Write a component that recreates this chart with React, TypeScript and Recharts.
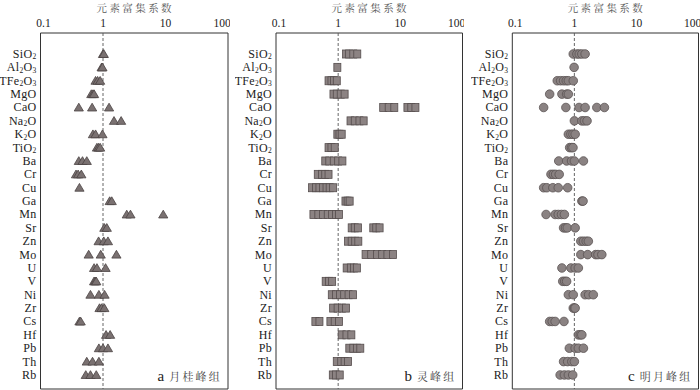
import React from 'react';
import { ScatterChart, Scatter, XAxis, YAxis, ReferenceLine, ReferenceArea } from 'recharts';

const categories = ['SiO2', 'Al2O3', 'TFe2O3', 'MgO', 'CaO', 'Na2O', 'K2O', 'TiO2', 'Ba', 'Cr', 'Cu', 'Ga', 'Mn', 'Sr', 'Zn', 'Mo', 'U', 'V', 'Ni', 'Zr', 'Cs', 'Hf', 'Pb', 'Th', 'Rb'];
const xTicks = [0.1, 1, 10, 100];
const minorTicks = [0.2, 0.3, 0.4, 0.5, 0.6, 0.7, 0.8, 0.9, 1, 2, 3, 4, 5, 6, 7, 8, 9, 10, 20, 30, 40, 50, 60, 70, 80, 90];
const axisTitle = '元素富集系数';

// a 月桂峰组 (triangles)
const yueguifeng: number[][] = [
  [1.0, 1.03], [0.95, 0.98], [0.76, 0.82, 0.9], [0.65, 0.69, 0.72], [0.41, 0.67, 1.25],
  [1.5, 1.95], [0.69, 0.76, 0.98], [0.8, 0.85, 0.9], [0.41, 0.47, 0.55], [0.37, 0.4, 0.45],
  [0.42], [1.28, 1.38], [2.4, 2.75, 9.2], [1.05, 1.15], [0.85, 1.03, 1.2],
  [0.59, 0.92, 1.64], [0.72, 0.8, 1.1], [0.72, 0.75, 0.78], [0.63, 0.86, 1.06], [0.88, 0.95, 1.05],
  [0.42, 0.44], [1.12, 1.3], [0.86, 1.0, 1.2], [0.55, 0.68, 0.86], [0.53, 0.63, 0.78],
];

// b 灵峰组 (rectangles)
const lingfeng: number[][] = [
  [1.34, 1.5, 1.75, 2.03], [0.97], [0.7, 0.78, 0.86, 0.95], [0.84, 0.95, 1.1, 1.27], [5.3, 6.5, 8.0, 13, 15, 17.5],
  [1.58, 1.85, 2.2, 2.57], [0.97, 1.05, 1.14], [0.7, 0.78, 0.88], [0.62, 0.72, 0.85, 1.0, 1.17], [0.47, 0.55, 0.62, 0.7],
  [0.38, 0.44, 0.5, 0.57, 0.65, 0.73, 0.83], [1.31, 1.42, 1.53], [0.4, 0.48, 0.57, 0.68, 0.8, 0.92, 1.03], [1.65, 1.85, 2.08, 3.67, 4.1, 4.64], [1.44, 1.65, 1.88, 2.11],
  [2.76, 3.4, 4.2, 5.1, 6.2, 7.6], [1.37, 1.6, 1.8, 2.0], [0.63, 0.71, 0.8], [0.79, 0.92, 1.07, 1.25, 1.47, 1.73], [0.83, 0.98, 1.15, 1.34],
  [0.43, 0.5, 0.75, 0.88, 1.03], [1.14, 1.36, 1.63], [1.51, 1.75, 2.0, 2.27], [0.95, 1.12, 1.27, 1.44], [0.82, 0.92, 1.06],
];

// c 明月峰组 (circles)
const mingyuefeng: number[][] = [
  [0.96, 1.1, 1.2, 1.32, 1.49], [0.99], [0.53, 0.6, 0.67, 0.74, 0.8, 0.96], [0.4, 0.63, 0.75, 0.8], [0.32, 0.73, 1.19, 1.49, 2.3, 3.05],
  [1.0, 1.32, 1.45, 1.6], [0.8, 0.88, 0.95, 1.03], [0.84, 0.9, 0.95], [0.56, 0.75, 0.9, 1.0, 1.4], [0.42, 0.46, 0.5, 0.57],
  [0.32, 0.36, 0.45, 0.55, 0.78], [1.32, 1.38], [0.35, 0.49, 0.55, 0.62, 0.69], [0.67, 0.72, 0.77, 1.03], [1.27, 1.4, 1.55, 1.68],
  [1.27, 1.64, 2.2, 2.4, 2.77], [0.63, 0.88, 1.03, 1.16], [0.65, 0.7, 0.75], [0.8, 0.96, 1.49, 1.7, 2.02], [0.96, 1.0, 1.03],
  [0.4, 0.44, 0.49, 0.68], [1.16, 1.25, 1.32], [0.83, 1.03, 1.16, 1.4], [0.67, 0.78, 0.91, 1.0], [0.59, 0.69, 0.8, 0.94],
];

const panelLetters = ['a', 'b', 'c'];
const panelNames = ['月桂峰组', '灵峰组', '明月峰组'];

const SERIF = "'Liberation Serif', 'Times New Roman', serif";
const CJK = "'Noto Serif CJK SC', 'Noto Sans CJK SC', sans-serif";
const Y_DOMAIN: [number, number] = [-1.57, 25.05];
const yTickVals = categories.map((_, i) => i);

const YTick = (props: any) => {
  const { x, y, payload } = props;
  const label = categories[payload.value] || '';
  const parts = label.match(/\d+|\D+/g) || [];
  let sub = false;
  return (
    <text x={x} y={y} textAnchor="end" dominantBaseline="central" fontSize={12} fontFamily={SERIF} fill="#222" letterSpacing={0.3}>
      {parts.map((p, i) => {
        const isNum = /\d/.test(p);
        let dy = 0;
        if (isNum && !sub) dy = 2.5;
        if (!isNum && sub) dy = -2.5;
        sub = isNum;
        return (
          <tspan key={i} dy={dy} fontSize={isNum ? 7.5 : 12}>{p}</tspan>
        );
      })}
    </text>
  );
};

const XTick = (props: any) => {
  const { x, y, payload } = props;
  const v = payload.value;
  const dx = v === 0.1 ? 3 : v === 100 ? -6 : 0;
  return (
    <text x={x + dx} y={y} textAnchor="middle" fontSize={11.5} fontFamily={SERIF} fill="#222">{String(v)}</text>
  );
};

const Triangle = (props: any) => {
  const { cx, cy } = props;
  if (cx == null || cy == null) return null;
  return <path d={`M${cx},${cy - 4.3} L${cx + 4.6},${cy + 3.5} L${cx - 4.6},${cy + 3.5} Z`} fill="#7a7171" stroke="#4a4343" strokeWidth={0.8} />;
};
const Rect = (props: any) => {
  const { cx, cy } = props;
  if (cx == null || cy == null) return null;
  return <rect x={cx - 3.5} y={cy - 4} width={7} height={8} fill="#8c8383" stroke="#554d4d" strokeWidth={0.8} />;
};
const Dot = (props: any) => {
  const { cx, cy } = props;
  if (cx == null || cy == null) return null;
  return <circle cx={cx} cy={cy} r={4.3} fill="#8a8282" stroke="#5a5353" strokeWidth={0.8} />;
};

const toPoints = (groups: number[][]) => groups.flatMap((vals, i) => vals.map((v) => ({ x: v, y: i })));

const panels = [
  { left: 0, plotLeft: 40.5, plotRight: 228, data: yueguifeng, shape: Triangle },
  { left: 235, plotLeft: 276, plotRight: 462.5, data: lingfeng, shape: Rect },
  { left: 471, plotLeft: 512.3, plotRight: 698.5, data: mingyuefeng, shape: Dot },
];

function Panel({ p }: { p: typeof panels[number] }) {
  const yw = p.plotLeft - p.left;
  const w = Math.min(700 - p.left, p.plotRight - p.left + 1.5);
  const mr = w - (p.plotRight - p.left);
  return (
    <div style={{ position: 'absolute', left: p.left, top: 0 }}>
      <ScatterChart width={w} height={390} margin={{ top: 13, right: mr, bottom: 1, left: 0 }}>
        <XAxis xAxisId={0} type="number" dataKey="x" scale="log" domain={[0.1, 100]} allowDataOverflow
          ticks={xTicks} interval={0} orientation="top" height={20} axisLine={false} tickLine={false}
          tickSize={0} tickMargin={6} tick={<XTick />} />
        <XAxis xAxisId="minor" type="number" dataKey="x" scale="log" domain={[0.1, 100]} allowDataOverflow
          ticks={minorTicks} interval={0} orientation="top" mirror height={0} axisLine={false}
          tick={false} tickSize={4} tickLine={{ stroke: '#333', strokeWidth: 1 }} />
        <YAxis yAxisId={0} type="number" dataKey="y" domain={Y_DOMAIN} reversed allowDataOverflow
          ticks={yTickVals} interval={0} width={yw} axisLine={false} tickLine={false}
          tickSize={0} tickMargin={4} tick={<YTick />} />
        <YAxis yAxisId="m" type="number" dataKey="y" domain={Y_DOMAIN} reversed allowDataOverflow
          ticks={yTickVals} interval={0} mirror width={0} axisLine={false} tick={false} tickSize={4}
          tickLine={{ stroke: '#333', strokeWidth: 1 }} />
        <ReferenceArea xAxisId={0} yAxisId={0} x1={0.1} x2={100} y1={Y_DOMAIN[0]} y2={Y_DOMAIN[1]}
          fill="none" fillOpacity={0} stroke="#333" strokeWidth={1} ifOverflow="visible" />
        <ReferenceLine xAxisId={0} yAxisId={0} x={1} stroke="#555" strokeWidth={0.9} strokeDasharray="3 2" />
        <Scatter xAxisId={0} yAxisId={0} data={toPoints(p.data)} shape={p.shape} isAnimationActive={false} />
      </ScatterChart>
    </div>
  );
}

export default function App() {
  return (
    <div style={{ position: 'absolute', left: 0, top: 0, width: 700, height: 390, overflow: 'hidden', background: '#fff' }}>
      {panels.map((p, i) => <Panel key={i} p={p} />)}
      <svg width={700} height={390} style={{ position: 'absolute', left: 0, top: 0, pointerEvents: 'none' }}>
        {panels.map((p, i) => (
          <g key={i}>
            <text x={(p.plotLeft + p.plotRight) / 2 + 1} y={12} textAnchor="middle" fontSize={10.5} fontFamily={CJK} fill="#555" letterSpacing={2.4}>{axisTitle}</text>
            <text x={p.plotRight - 6} y={381} textAnchor="end">
              <tspan fontSize={15} fontFamily={SERIF} fill="#222">{panelLetters[i]}</tspan>
              <tspan dx={5} fontSize={11} fontFamily={CJK} fill="#444" letterSpacing={2.2}>{panelNames[i]}</tspan>
            </text>
          </g>
        ))}
      </svg>
    </div>
  );
}
